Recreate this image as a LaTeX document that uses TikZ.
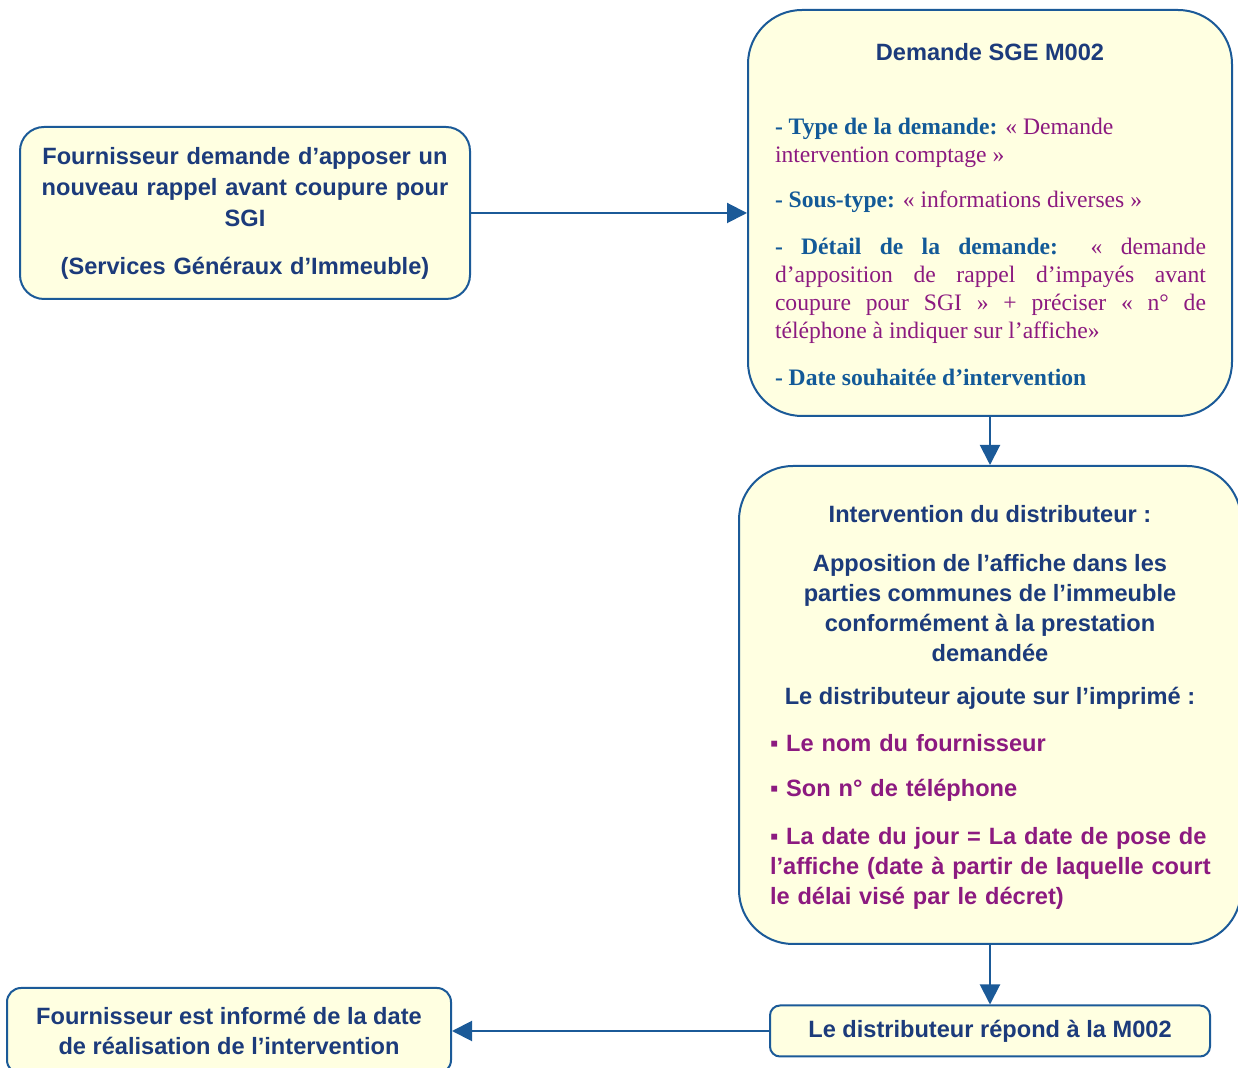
\documentclass[tikz,border=0pt]{standalone}
\usepackage{fontspec}
\setmainfont{Liberation Serif}
\setsansfont{Liberation Sans}
\usetikzlibrary{arrows.meta}
\definecolor{boxfill}{HTML}{FFFFE1}
\definecolor{boxline}{HTML}{1B5A98}
\definecolor{navy}{HTML}{1C3B7B}
\definecolor{lblue}{HTML}{135A98}
\definecolor{plum}{HTML}{8C1A80}
\newcommand\dlab[1]{\textcolor{lblue}{\bfseries #1}}
\newcommand\dval[1]{\textcolor{plum}{#1}}
\begin{document}
\begin{tikzpicture}[x=0.5pt,y=-0.5pt,>={Triangle[length=10pt,width=10pt]},
	box/.style={draw=boxline,fill=boxfill,line width=1pt,rounded corners=#1},box/.default=12pt,
	sf/.style={font=\sffamily\bfseries\fontsize{11.8}{15}\selectfont,text=navy,align=center},
	ser/.style={font=\fontsize{11.8}{14}\selectfont,text width=215.5pt,align=justify,inner sep=0pt},
	flow/.style={->,draw=boxline,line width=1pt}]
			\useasboundingbox (0,0) rectangle (1238,1068);
			\clip (0,0) rectangle (1238,1068);
			% boxes
			\node[box=12pt,sf,font=\sffamily\bfseries\fontsize{11.8}{15.5}\selectfont,minimum width=225pt,minimum height=86pt,text width=215pt] (src) at (245,213) {Fournisseur demande d’apposer un\\nouveau rappel avant coupure pour\\SGI\\[8.5pt](Services Généraux d’Immeuble)};
			\node[box=27pt,minimum width=242pt,minimum height=203pt] (sge) at (990,213) {};
			\node[box=27pt,minimum width=251pt,minimum height=239pt] (interv) at (990,705) {};
			\node[box=5pt,sf,minimum width=220pt,minimum height=25.5pt] (rep) at (990,1031) {Le distributeur répond à la M002};
			\node[box=7pt,sf,minimum width=222pt,minimum height=43pt] (info) at (229,1031) {Fournisseur est informé de la date\\de réalisation de l’intervention};
			% texts of the two big boxes
			\node[sf] (sgetitle) at (990,52) {Demande SGE M002};
			\node[ser] (sgebody) at (990.5,252) {\dlab{- Type de la demande:} \dval{«~Demande\newline intervention comptage~»}\par\vspace{8.5pt}
				\dlab{- Sous-type:} \dval{«~informations diverses~»}\par\vspace{9.5pt}
				\dlab{- Détail de la demande:} \dval{«~demande\linebreak d’apposition de rappel d’impayés avant\linebreak coupure pour SGI~» + préciser «~n° de\linebreak téléphone à indiquer sur l’affiche»}\par\vspace{9.5pt}
				\dlab{- Date souhaitée d'intervention}};
			\node[sf] (ivtitle) at (990,514) {Intervention du distributeur :};
			\node[sf] (ivtext) at (990,608) {Apposition de l’affiche dans les\\parties communes de l’immeuble\\conformément à la prestation\\demandée};
			\node[sf] (ivadd) at (990,698) {Le distributeur ajoute sur l’imprimé :};
			\node[sf,text=plum,align=left,text width=226pt,inner sep=0pt] (ivlist) at (996,822) {▪ Le nom du fournisseur\\[7.5pt]▪ Son n° de téléphone\\[9pt]▪ La date du jour = La date de pose de\\l’affiche (date à partir de laquelle court\\le délai visé par le décret)};
			% connectors
			\draw[flow] (src) -- (sge);
			\draw[flow] (sge) -- (interv);
			\draw[flow] (interv) -- (rep);
			\draw[flow] (rep) -- (info);
		\end{tikzpicture}
\end{document}
